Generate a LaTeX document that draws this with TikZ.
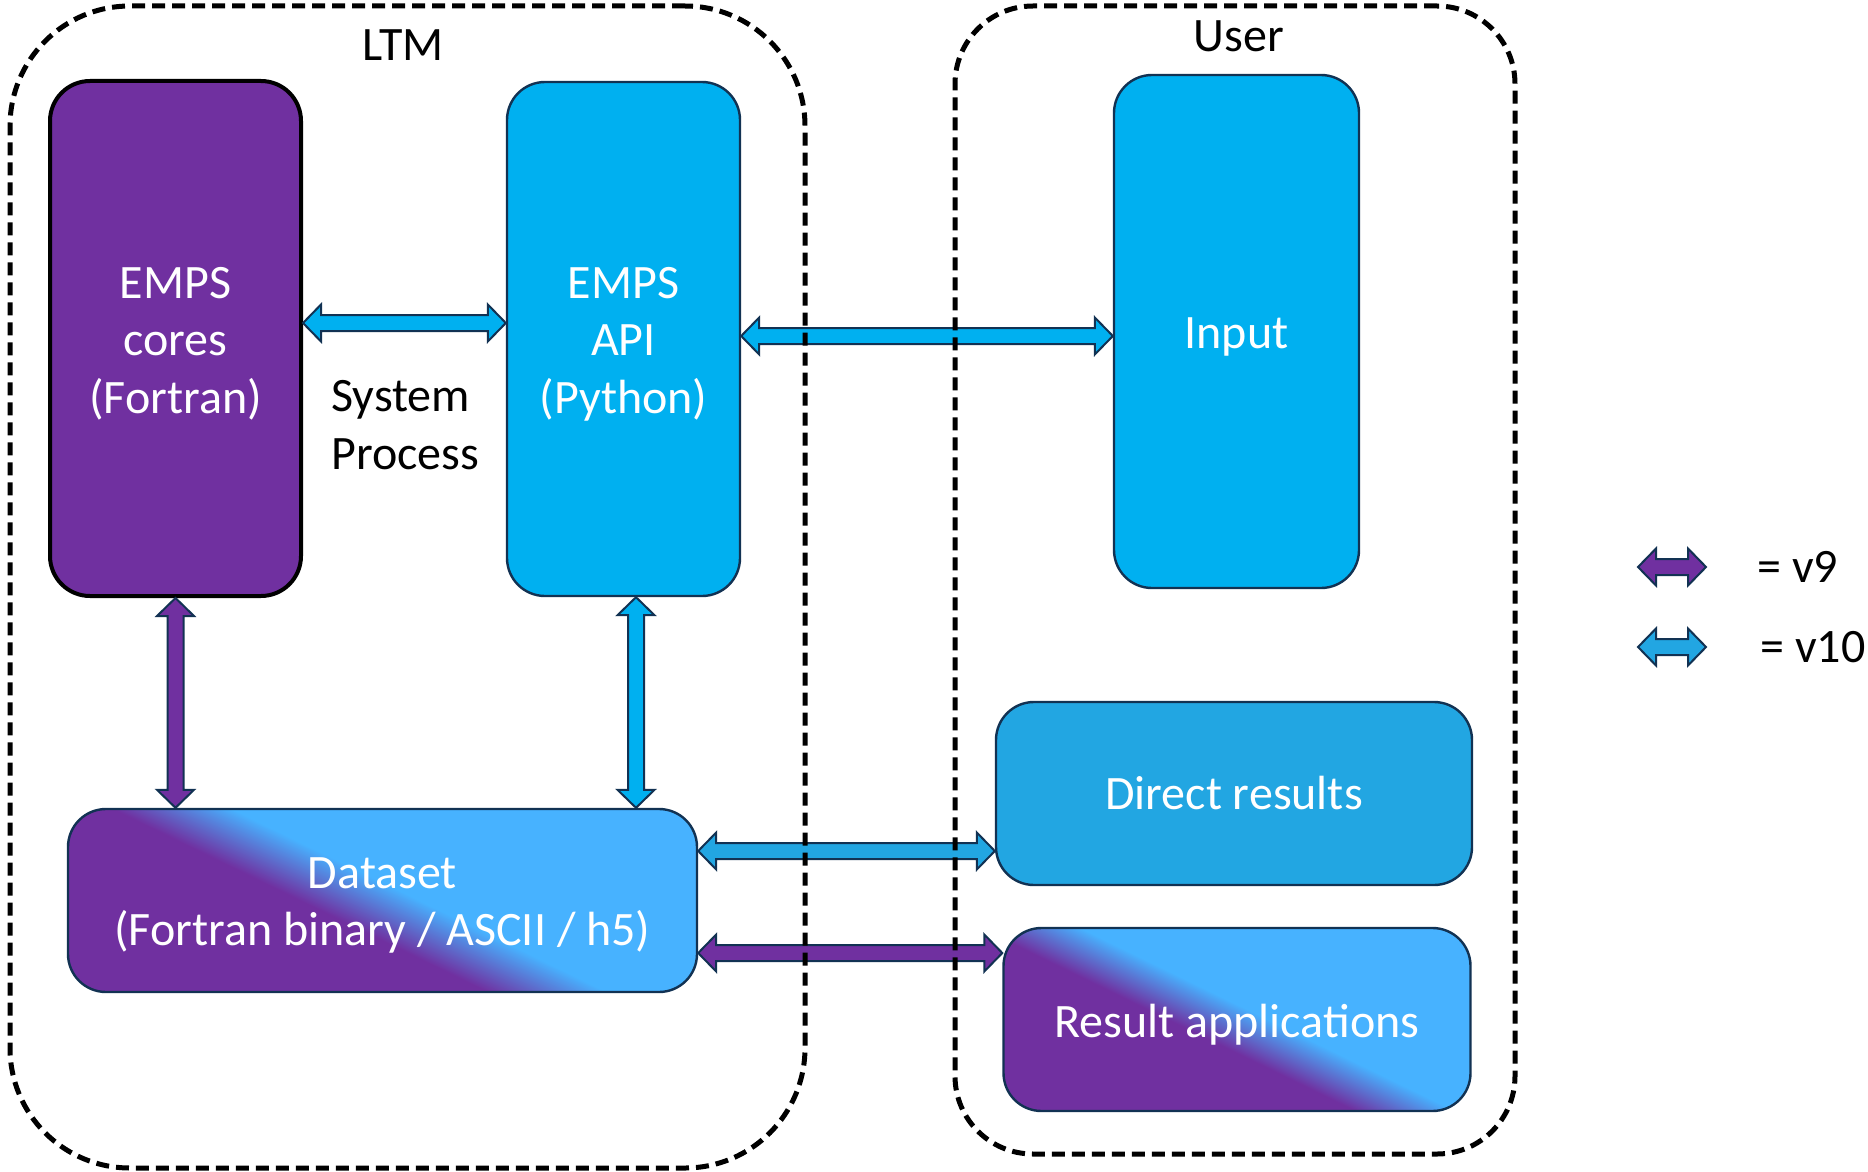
\documentclass[tikz,border=0pt]{standalone}
\usepackage{fontspec}
\setmainfont{Carlito}
\usepackage{tikz}
\usetikzlibrary{calc}
\usetikzlibrary{positioning}
\definecolor{v9}{HTML}{7030A0}
\definecolor{v10}{HTML}{22A6E2}
\definecolor{apiblue}{HTML}{00B0F0}
\definecolor{skyblue}{HTML}{47B2FF}
\definecolor{navy}{HTML}{123253}
\pgfdeclareverticalshading{v9tov10}{100bp}{color(0bp)=(v9); color(44.5bp)=(v9); color(52.5bp)=(skyblue); color(100bp)=(skyblue)}
\newcommand\boxfont{\fontsize{24}{28.8}\selectfont}
\newcommand\headlen{9pt}
\newcommand\headwid{9.25pt}
\newcommand\shaftwid{4pt}
\tikzset{
    group/.style={draw, line width=2.5pt, dash pattern=on 6.5pt off 3.5pt},
    box/.style={draw=navy, line width=1.2pt, rounded corners=19pt, text=white, align=center,
        text height={\dimexpr\ht\pgfnodeparttextbox+5pt\relax}},
    corebox/.style={box, fill=v9, draw=black, line width=2pt, rounded corners=20pt},
    apibox/.style={box, fill=apiblue},
    resbox/.style={box, fill=v10},
    mixbox/.style={box, shade, shading=v9tov10, shading angle=-26},
    fatarrow/.style={draw=navy, line width=1pt, line join=miter},
}
\newcommand\dblarrow[3]{%
    \coordinate (h1) at ($(#2)!\headlen!(#3)$);
    \coordinate (h2) at ($(#3)!\headlen!(#2)$);
    \draw[fatarrow, fill=#1] (#2) -- ($(h1)!\headwid!90:(#3)$) -- ($(h1)!\shaftwid!90:(#3)$)
        -- ($(h2)!\shaftwid!-90:(#2)$) -- ($(h2)!\headwid!-90:(#2)$) -- (#3)
        -- ($(h2)!\headwid!90:(#2)$) -- ($(h2)!\shaftwid!90:(#2)$)
        -- ($(h1)!\shaftwid!-90:(#3)$) -- ($(h1)!\headwid!-90:(#3)$) -- cycle;
}

\begin{document}
\begin{tikzpicture}[x=0.5pt, y=-0.5pt, every node/.style={font=\boxfont, inner sep=0pt}]
    \useasboundingbox (0,0) rectangle (1868,1172);
    \node[corebox, minimum width=125.5pt, minimum height=257.5pt] (cores) at (175.5,338.5) {EMPS\\cores\\(Fortran)};
    \node[apibox, minimum width=116.5pt, minimum height=257pt] (api) at (623.5,339) {EMPS\\API\\(Python)};
    \node[apibox, minimum width=122.5pt, minimum height=256.5pt] (input) at (1236.5,331.5) {Input};
    \node[mixbox, minimum width=314.5pt, minimum height=91.5pt] (dataset) at (382.5,900.5) {Dataset\\(Fortran binary / ASCII / h5)};
    \node[resbox, text height={}, minimum width=238pt, minimum height=91.5pt] (direct) at (1234,793.5) {Direct results};
    \node[mixbox, minimum width=233.5pt, minimum height=91.5pt] (resapp) at (1237,1019.5) {Result applications};
    \node[align=left, anchor=west] (sysproc) at (331,425) {System\\Process};
    \node (ltmlabel) at (403,45) {LTM};
    \node (userlabel) at (1239,36) {User};

    \coordinate (sys1) at ([yshift=7.75pt]cores.east);
    \coordinate (sys2) at (sys1 -| api.west);
    \coordinate (in1) at ([yshift=1.5pt]api.east);
    \coordinate (in2) at (in1 -| input.west);
    \coordinate (cd1) at (cores.south);
    \coordinate (cd2) at (cd1 |- dataset.north);
    \coordinate (ad1) at ([xshift=6.25pt]api.south);
    \coordinate (ad2) at (ad1 |- dataset.north);
    \coordinate (dr1) at ([yshift=24.75pt]dataset.east);
    \coordinate (dr2) at (dr1 -| direct.west);
    \coordinate (ra1) at ([yshift=-26.25pt]dataset.east);
    \coordinate (ra2) at (ra1 -| resapp.west);
    \dblarrow{apiblue}{sys1}{sys2}
    \dblarrow{apiblue}{in1}{in2}
    \dblarrow{v9}{cd1}{cd2}
    \dblarrow{apiblue}{ad1}{ad2}
    \dblarrow{v10}{dr1}{dr2}
    \dblarrow{v9}{ra1}{ra2}

    \coordinate (k9a) at (1638,567);
    \coordinate (k9b) at (1706,567);
    \coordinate (k10a) at (1638,647);
    \coordinate (k10b) at (1706,647);
    \dblarrow{v9}{k9a}{k9b}
    \dblarrow{v10}{k10a}{k10b}
    \node[right=25.5pt of k9b] (k9) {= v9};
    \node[right=27pt of k10b] (k10) {= v10};

    \node[group, rounded corners=60pt, minimum width=397.5pt, minimum height=581pt] (ltm) at (407.5,587) {};
    \node[group, rounded corners=39pt, minimum width=280pt, minimum height=574pt] (user) at (1235,580) {};
\end{tikzpicture}
\end{document}
